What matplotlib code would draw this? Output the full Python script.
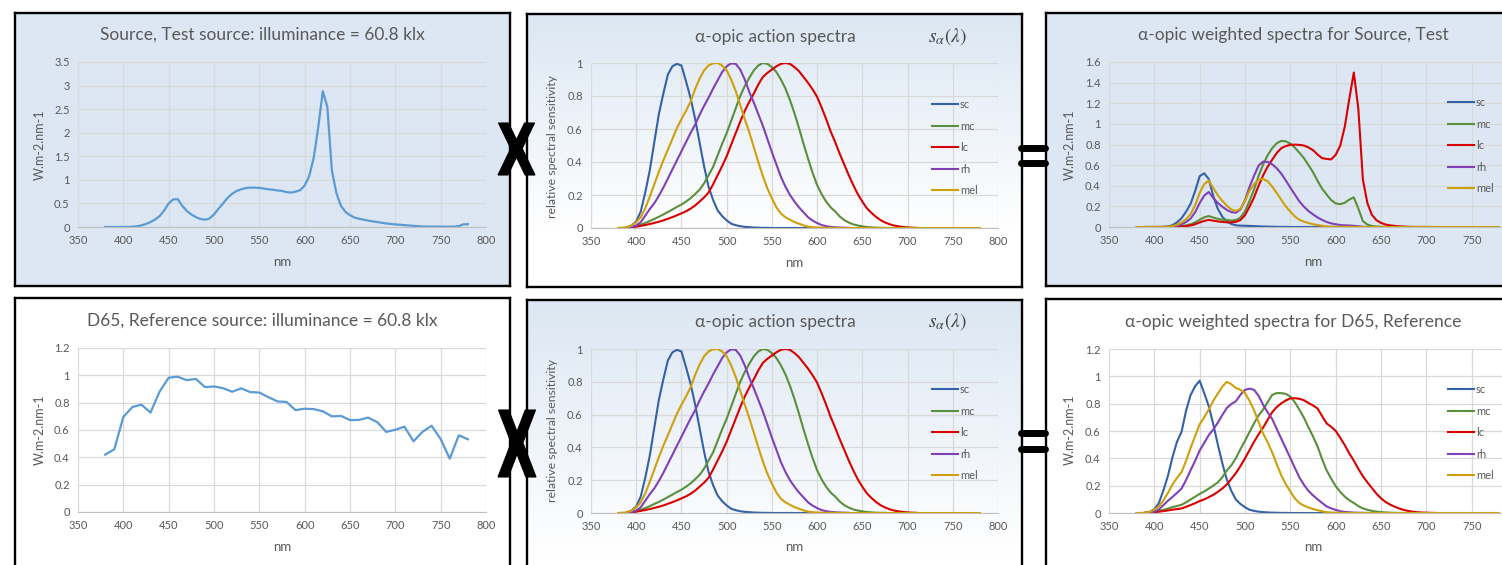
import numpy as np
import matplotlib.pyplot as plt
from matplotlib.lines import Line2D
from matplotlib.colors import LinearSegmentedColormap
from matplotlib.textpath import TextPath
from matplotlib.patches import PathPatch
from matplotlib.font_manager import FontProperties
from matplotlib.transforms import Affine2D
from matplotlib.ticker import FuncFormatter

plt.rcParams['font.family'] = ['Lato', 'DejaVu Sans']
plt.rcParams['mathtext.fontset'] = 'stix'

nan = np.nan
wl = np.arange(380, 785, 5)

# test source spectral irradiance, W.m-2.nm-1, 380..780 nm in 5 nm steps
test_src = [0.000, 0.000, 0.000, 0.000, 0.000, 0.002, 0.005, 0.015, 0.035, 0.065,
            0.105, 0.160, 0.230, 0.350, 0.500, 0.585, 0.590, 0.450, 0.340, 0.265,
            0.210, 0.170, 0.155, 0.180, 0.265, 0.390, 0.500, 0.620, 0.705, 0.765,
            0.800, 0.825, 0.835, 0.835, 0.830, 0.815, 0.800, 0.790, 0.775, 0.765,
            0.740, 0.730, 0.750, 0.780, 0.880, 1.080, 1.470, 2.120, 2.880, 2.550,
            1.200, 0.720, 0.450, 0.320, 0.250, 0.200, 0.175, 0.155, 0.135, 0.120,
            0.105, 0.090, 0.075, 0.065, 0.055, 0.048, 0.040, 0.032, 0.025, 0.018,
            0.012, 0.010, 0.008, 0.007, 0.007, 0.007, 0.007, 0.008, 0.020, 0.055,
            0.060]

# D65 reference at the same illuminance
d65_src = [0.420, 0.439, 0.459, 0.577, 0.695, 0.732, 0.768, 0.777, 0.785, 0.756,
           0.728, 0.805, 0.881, 0.932, 0.983, 0.986, 0.990, 0.977, 0.965, 0.969,
           0.974, 0.944, 0.914, 0.916, 0.919, 0.912, 0.906, 0.893, 0.880, 0.892,
           0.905, 0.891, 0.877, 0.876, 0.874, 0.857, 0.840, 0.825, 0.809, 0.807,
           0.805, 0.775, 0.745, 0.751, 0.756, 0.754, 0.753, 0.745, 0.737, 0.718,
           0.700, 0.701, 0.703, 0.688, 0.672, 0.673, 0.674, 0.682, 0.691, 0.674,
           0.658, 0.622, 0.586, 0.594, 0.602, 0.613, 0.625, 0.571, 0.517, 0.552,
           0.587, 0.609, 0.631, 0.582, 0.534, 0.462, 0.390, 0.476, 0.561, 0.547,
           0.532]

# alpha-opic action spectra (relative)
sc = [nan, nan, 0.005, 0.015, 0.040, 0.100, 0.215, 0.350, 0.520, 0.690,
      0.815, 0.930, 0.980, 0.995, 0.985, 0.890, 0.790, 0.665, 0.520, 0.375,
      0.250, 0.170, 0.107, 0.072, 0.046, 0.026, 0.017, 0.011, 0.007, 0.005,
      0.003, 0.002, 0.001, 0.001, 0.000, 0.000, 0.000, 0.000, 0.000, 0.000,
      0.000, 0.000, 0.000, 0.000, 0.000, 0.000, 0.000, 0.000] + [nan] * 33

mc = [nan, nan, 0.003, 0.006, 0.012, 0.020, 0.030, 0.042, 0.055, 0.068,
      0.082, 0.097, 0.112, 0.128, 0.142, 0.160, 0.180, 0.205, 0.232, 0.270,
      0.320, 0.370, 0.440, 0.510, 0.575, 0.650, 0.725, 0.800, 0.860, 0.910,
      0.955, 0.985, 1.000, 0.995, 0.975, 0.945, 0.900, 0.845, 0.775, 0.695,
      0.605, 0.510, 0.420, 0.335, 0.260, 0.205, 0.160, 0.125, 0.100, 0.070,
      0.048, 0.033, 0.022, 0.015, 0.010, 0.006, 0.004, 0.002, 0.001, 0.001] + [nan] * 21

lc = [nan, nan, 0.002, 0.004, 0.008, 0.013, 0.018, 0.024, 0.031, 0.038,
      0.046, 0.056, 0.066, 0.077, 0.089, 0.101, 0.117, 0.136, 0.160, 0.185,
      0.215, 0.265, 0.320, 0.375, 0.435, 0.505, 0.575, 0.645, 0.710, 0.765,
      0.815, 0.870, 0.915, 0.940, 0.960, 0.980, 0.995, 1.000, 0.995, 0.975,
      0.950, 0.915, 0.880, 0.840, 0.795, 0.730, 0.660, 0.585, 0.520, 0.450,
      0.385, 0.320, 0.260, 0.205, 0.160, 0.120, 0.092, 0.068, 0.048, 0.034,
      0.023, 0.015, 0.010, 0.006, 0.004, 0.002, 0.001] + [nan] * 14

rh = [nan, nan, 0.002, 0.006, 0.015, 0.035, 0.075, 0.115, 0.150, 0.195,
      0.245, 0.300, 0.355, 0.410, 0.465, 0.520, 0.575, 0.625, 0.685, 0.740,
      0.790, 0.845, 0.895, 0.945, 0.980, 0.998, 0.995, 0.960, 0.900, 0.825,
      0.760, 0.690, 0.620, 0.540, 0.460, 0.385, 0.310, 0.250, 0.200, 0.160,
      0.125, 0.095, 0.065, 0.045, 0.030, 0.018, 0.011, 0.007, 0.004, 0.003,
      0.002, 0.001] + [nan] * 29

mel = [0.000, 0.002, 0.005, 0.015, 0.035, 0.065, 0.120, 0.190, 0.265, 0.340,
       0.410, 0.475, 0.540, 0.605, 0.660, 0.710, 0.765, 0.840, 0.905, 0.955,
       0.985, 0.998, 1.000, 0.985, 0.955, 0.900, 0.830, 0.745, 0.660, 0.580,
       0.490, 0.400, 0.315, 0.240, 0.180, 0.125, 0.087, 0.065, 0.050, 0.036,
       0.026, 0.016, 0.008, 0.005, 0.003, 0.002, 0.001, 0.001, 0.000, 0.000,
       0.000, 0.000, 0.000, 0.000, 0.000, 0.000, 0.000, 0.000, 0.000, 0.000,
       0.000, 0.000, 0.000, 0.000, 0.000, 0.000, 0.000, 0.000, 0.000, 0.000,
       0.000, 0.000, 0.000, 0.000, 0.000, 0.000, 0.000, 0.000, 0.000, 0.000,
       0.000]

names = ['sc', 'mc', 'lc', 'rh', 'mel']
spectra = [sc, mc, lc, rh, mel]
colors = ['#3461a8', '#5a8f3c', '#d90000', '#8040b8', '#cfa00c']
x_ticks = [350, 400, 450, 500, 550, 600, 650, 700, 750, 800]

W, H = 1502, 565
BLUE = '#dce7f3'
GREY = '#595959'

fig = plt.figure(figsize=(W / 100, H / 100), dpi=100)


def box(x0, y0, x1, y1):
    # pixel box measured from the top-left corner -> figure fraction rect
    return [x0 / W, 1 - y1 / H, (x1 - x0) / W, (y1 - y0) / H]


def panel(x0, y0, x1, y1, fill):
    bg = fig.add_axes(box(x0, y0, x1, y1), zorder=0)
    bg.set_xticks([])
    bg.set_yticks([])
    for s in bg.spines.values():
        s.set_linewidth(1.7)
        s.set_color('black')
    if fill == 'gradient':
        cmap = LinearSegmentedColormap.from_list('fade', [BLUE, 'white'])
        grad = np.clip(np.linspace(0, 1, 256).reshape(-1, 1) / 0.8, 0, 1)
        bg.imshow(grad, aspect='auto', cmap=cmap, vmin=0, vmax=1,
                  extent=[0, 1, 0, 1], origin='upper')
        bg.set_xlim(0, 1)
        bg.set_ylim(0, 1)
    else:
        bg.set_facecolor(fill)


def chart(x0, y0, x1, y1, ymax, ystep, cut_right=False):
    ax = fig.add_axes(box(x0, y0, x1, y1), zorder=1)
    ax.patch.set_alpha(0)
    ax.set_xlim(350, 800)
    ax.set_ylim(0, ymax)
    ax.set_xticks(x_ticks)
    # the right-hand charts run past the page edge, so the last label is not shown
    ax.set_xticklabels([str(t) if not (cut_right and t == 800) else '' for t in x_ticks])
    ax.set_yticks(np.arange(0, ymax + ystep / 2, ystep))
    ax.yaxis.set_major_formatter(FuncFormatter(lambda v, p: f'{v:g}'))
    ax.grid(color='#d9d9d9', lw=0.9)
    ax.set_axisbelow(True)
    for k in ('left', 'right', 'top'):
        ax.spines[k].set_visible(False)
    ax.spines['bottom'].set_color('#bfbfbf')
    ax.tick_params(length=0, labelsize=8, labelcolor=GREY, pad=6)
    return ax


def label(x, y, s, size, rot=0, color=GREY):
    fig.text(x / W, 1 - y / H, s, ha='center', va='center', fontsize=size,
             color=color, rotation=rot)


def curves(ax, src, legend_xy):
    for name, spec, c in zip(names, spectra, colors):
        y = np.array(spec) if src is None else np.array(src) * np.array(spec)
        ax.plot(wl, y, color=c, lw=1.5, label=name)
    ax.legend(loc='upper left', bbox_to_anchor=(legend_xy[0] / W, 1 - legend_xy[1] / H),
              bbox_transform=fig.transFigure, frameon=False, fontsize=8,
              labelcolor=GREY, handlelength=2.3, handletextpad=0.2,
              labelspacing=0.95, borderpad=0, borderaxespad=0)


# top row: test source
panel(15, 13, 510, 286, BLUE)
ax = chart(78, 62, 486, 227, 3.5, 0.5)
ax.plot(wl, test_src, color='#5b9bd5', lw=1.6)
label(262, 35, 'Source, Test source: illuminance = 60.8 klx', 12.5)
label(40, 145, 'W.m-2.nm-1', 9, 90)
label(282, 262, 'nm', 9.5)

panel(527, 14, 1022, 287, 'gradient')
ax = chart(591, 63, 998, 228, 1, 0.2)
curves(ax, None, (932, 99))
label(775, 37, 'α-opic action spectra', 12.5)
label(947, 37, r'$s_{\alpha}(\lambda)$', 14, color='#404040')
label(553, 146, 'relative spectral sensitivity', 8.8, 90)
label(794, 263, 'nm', 9.5)

panel(1046, 13, 1560, 286, BLUE)
ax = chart(1109, 62, 1517, 227, 1.6, 0.2, cut_right=True)
curves(ax, test_src, (1448, 97))
label(1293, 35, 'α-opic weighted spectra for Source, Test', 12.5)
label(1070, 145, 'W.m-2.nm-1', 9, 90)
label(1313, 262, 'nm', 9.5)

# bottom row: D65 reference
panel(15, 298, 510, 620, 'white')
ax = chart(78, 348, 486, 512, 1.2, 0.2)
ax.plot(wl, d65_src, color='#5b9bd5', lw=1.6)
label(262, 321, 'D65, Reference source: illuminance = 60.8 klx', 12.5)
label(40, 430, 'W.m-2.nm-1', 9, 90)
label(282, 547, 'nm', 9.5)

panel(527, 300, 1022, 620, 'gradient')
ax = chart(591, 349, 998, 513, 1, 0.2)
curves(ax, None, (932, 384))
label(775, 322, 'α-opic action spectra', 12.5)
label(947, 322, r'$s_{\alpha}(\lambda)$', 14, color='#404040')
label(553, 430, 'relative spectral sensitivity', 8.8, 90)
label(794, 547, 'nm', 9.5)

panel(1046, 299, 1560, 620, 'white')
ax = chart(1109, 349, 1517, 513, 1.2, 0.2, cut_right=True)
curves(ax, d65_src, (1448, 384))
label(1293, 322, 'α-opic weighted spectra for D65, Reference', 12.5)
label(1070, 430, 'W.m-2.nm-1', 9, 90)
label(1313, 547, 'nm', 9.5)

# big "X" and "=" signs between the panels
xpath = TextPath((0, 0), 'X', size=1, prop=FontProperties(family='DejaVu Sans', weight='bold'))
ext = xpath.get_extents()


def big_x(x0, y0, x1, y1):
    tr = (Affine2D().translate(-ext.x0, -ext.y0)
          .scale((x1 - x0) / ext.width / W, (y1 - y0) / ext.height / H)
          .translate(x0 / W, 1 - y1 / H))
    fig.add_artist(PathPatch(tr.transform_path(xpath), transform=fig.transFigure,
                             facecolor='black', edgecolor='black', lw=0.8, zorder=10))


def equals(xa, xb, ys):
    for y in ys:
        fig.add_artist(Line2D([xa / W, xb / W], [1 - y / H] * 2, transform=fig.transFigure,
                              color='black', lw=5, solid_capstyle='round', zorder=10))


big_x(498, 123, 535, 175)
big_x(498, 410, 536, 477)
equals(1020.5, 1044.5, (148, 163))
equals(1020.5, 1044.5, (433, 449))

fig.savefig('out.png', dpi=100)
